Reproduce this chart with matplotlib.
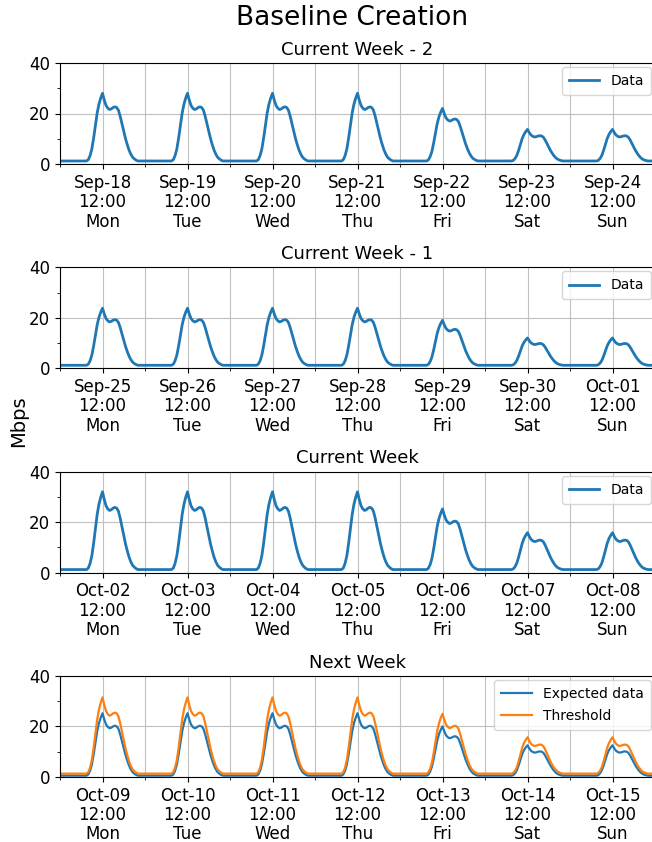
import matplotlib
matplotlib.use('Agg')

from matplotlib import pyplot as plt
import matplotlib.dates as mdates
import pandas as pd

# daily shape, one value per half hour (00:00 .. 23:30), peak = 1
day_shape = [0] * 16 + [0.02, 0.08, 0.18, 0.34, 0.53, 0.71, 0.84, 0.93, 1.00,
                        0.90, 0.82, 0.78, 0.76, 0.77, 0.79, 0.80, 0.79, 0.75,
                        0.66, 0.55, 0.44, 0.33, 0.24, 0.16, 0.10, 0.055, 0.03,
                        0.012] + [0] * 4

# daily peak in Mbps, Mon..Sun
week_m2_peaks = [28, 28, 28, 28, 22, 13.7, 13.7]
week_m1_peaks = [23.8, 23.8, 23.8, 23.8, 19, 12, 12]
week_cur_peaks = [32, 32, 32, 32, 25.2, 15.8, 15.8]
expected_peaks = [25.2, 25.2, 25.2, 25.2, 20, 12.5, 12.5]
threshold_peaks = [31.5, 31.5, 31.5, 31.5, 25, 15.7, 15.7]

data_base = 1.2
expected_base = 0.5
threshold_base = 1.3

week_starts = ['2017-09-18', '2017-09-25', '2017-10-02', '2017-10-09']
titles = ['Current Week - 2', 'Current Week - 1', 'Current Week', 'Next Week']


def week_series(peaks, base):
    vals = [base + (p - base) * s for p in peaks for s in day_shape]
    return vals + [base]


def week_times(start):
    return pd.date_range(start, periods=7 * 48 + 1, freq='30min')


fig = plt.figure(figsize=(6.52, 8.42), dpi=100)
fig.suptitle('Baseline Creation', fontsize=19, x=0.54, y=0.979, va='center')

axes = []
for i in range(4):
    bottom = 1 - (164 + i * 204.3) / 842
    ax = fig.add_axes([60 / 652, bottom, 595 / 652, 101 / 842])
    axes.append(ax)

weeks = [week_m2_peaks, week_m1_peaks, week_cur_peaks]
for ax, peaks, start in zip(axes[:3], weeks, week_starts[:3]):
    ax.plot(week_times(start), week_series(peaks, data_base), color='#1f77b4', lw=2.0, label='Data')

t = week_times(week_starts[3])
axes[3].plot(t, week_series(expected_peaks, expected_base), color='#1f77b4', lw=1.6, label='Expected data')
axes[3].plot(t, week_series(threshold_peaks, threshold_base), color='#ff7f0e', lw=1.6, label='Threshold')

for ax, start, title in zip(axes, week_starts, titles):
    t0 = pd.Timestamp(start)
    ax.set_xlim(t0, t0 + pd.Timedelta(days=7))
    ax.set_ylim(0, 40)
    ax.set_yticks([0, 20, 40])
    ax.set_yticks([10, 30], minor=True)
    ax.xaxis.set_major_locator(mdates.HourLocator(byhour=[12]))
    ax.xaxis.set_major_formatter(mdates.DateFormatter('%b-%d\n%H:%M\n%a'))
    ax.xaxis.set_minor_locator(mdates.DayLocator())
    ax.grid(True, which='both', axis='x', color='#c0c0c0')
    ax.grid(True, which='major', axis='y', color='#c0c0c0')
    ax.tick_params(labelsize=12)
    ax.set_title(title, fontsize=13)
    ax.legend(loc='upper right', fontsize=10, borderaxespad=0.3,
              handlelength=2.2, labelspacing=0.6, borderpad=0.5)

fig.text(0.028, 0.5, 'Mbps', rotation=90, fontsize=14, va='center', ha='center')

# tighter line spacing for the three-line date labels
fig.canvas.draw()
for ax in axes:
    for lbl in ax.get_xticklabels():
        lbl.set_linespacing(1.1)

fig.savefig('out.png', dpi=100)
